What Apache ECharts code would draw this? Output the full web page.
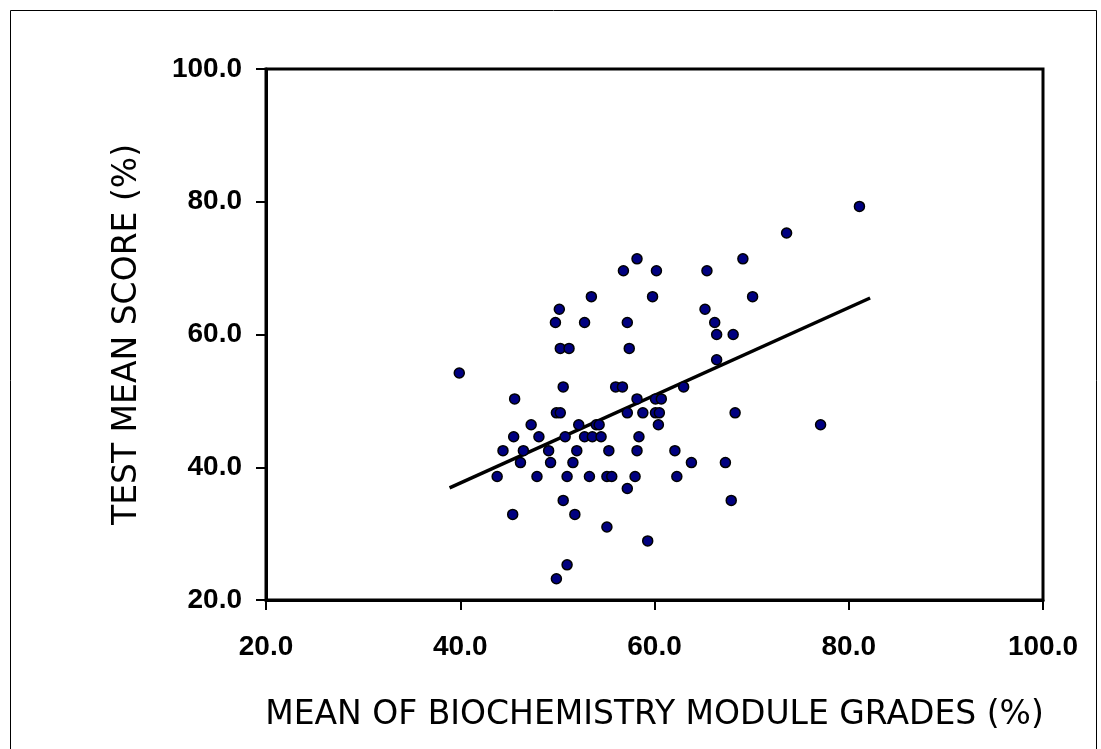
<!DOCTYPE html>
<html>
<head>
<meta charset="utf-8">
<script src="https://cdn.jsdelivr.net/npm/echarts@6/dist/echarts.min.js"></script>
<style>
html,body{margin:0;padding:0;background:#fff;}
#chart{width:1101px;height:749px;}
</style>
</head>
<body>
<div id="chart"></div>
<script>
// Data
var xTitle = 'MEAN OF BIOCHEMISTRY MODULE GRADES (%)';
var yTitle = 'TEST MEAN SCORE (%)';
var moduleGrades = [
  39.9, 45.6, 49.8, 50.2, 52.8, 53.5, 50.3, 51.2, 50.6, 56.0,
  56.7, 49.9, 50.3, 47.3, 52.2, 54.0, 54.3, 45.5, 48.1, 50.8,
  52.8, 53.6, 54.5, 44.4, 46.5, 49.1, 52.0, 55.3, 46.2, 49.3,
  51.6, 43.8, 47.9, 51.0, 53.3, 55.1, 55.6, 50.6, 45.4, 51.8,
  55.1, 51.0, 49.9, 56.8, 58.2, 60.2, 59.8, 57.2, 57.4, 58.2,
  60.1, 60.7, 57.2, 58.8, 60.1, 60.5, 60.4, 58.4, 58.2, 58.0,
  57.2, 59.3, 63.0, 62.1, 63.8, 62.3, 65.4, 69.1, 70.1, 65.2,
  66.2, 66.4, 68.1, 66.4, 68.3, 67.3, 67.9, 73.6, 81.1, 77.1
];
var testScores = [
  54.2, 50.3, 61.8, 63.8, 61.8, 65.7, 57.9, 57.9, 52.1, 52.1,
  52.1, 48.2, 48.2, 46.4, 46.4, 46.4, 46.4, 44.6, 44.6, 44.6,
  44.6, 44.6, 44.6, 42.5, 42.5, 42.5, 42.5, 42.5, 40.7, 40.7,
  40.7, 38.6, 38.6, 38.6, 38.6, 38.6, 38.6, 35.0, 32.9, 32.9,
  31.0, 25.3, 23.2, 69.6, 71.4, 69.6, 65.7, 61.8, 57.9, 50.3,
  50.3, 50.3, 48.2, 48.2, 48.2, 48.2, 46.4, 44.6, 42.5, 38.6,
  36.8, 28.9, 52.1, 42.5, 40.7, 38.6, 69.6, 71.4, 65.7, 63.8,
  61.8, 60.0, 60.0, 56.2, 48.2, 40.7, 35.0, 75.3, 79.3, 46.4
];
var trendX = [38.9, 82.2];
var trendY = [36.9, 65.5];
var axisMin = 20, axisMax = 100, axisStep = 20;

var points = moduleGrades.map(function (x, i) { return [x, testScores[i]]; });
var trend = trendX.map(function (x, i) { return [x, trendY[i]]; });

var chart = echarts.init(document.getElementById('chart'), null, {renderer: 'canvas'});

var tickFont = {
  color: '#000', fontFamily: '"Liberation Sans", Arial, sans-serif',
  fontWeight: 'bold', fontSize: 28,
  formatter: function (v) { return v.toFixed(1); }
};

chart.setOption({
  backgroundColor: '#fff',
  animation: false,
  graphic: [{
    type: 'rect', silent: true, z: 0,
    shape: {x: 10.5, y: 10.5, width: 1086, height: 780},
    style: {fill: 'none', stroke: '#000', lineWidth: 1}
  }],
  grid: {
    left: 266, top: 69, right: 58, bottom: 149,
    show: true, borderColor: '#000', borderWidth: 3, backgroundColor: 'transparent'
  },
  xAxis: {
    type: 'value', min: axisMin, max: axisMax, interval: axisStep,
    name: xTitle, nameLocation: 'middle', nameGap: 99,
    nameTextStyle: {fontFamily: '"DejaVu Sans", sans-serif', fontSize: 33, color: '#000'},
    axisLine: {show: true, onZero: false, lineStyle: {color: '#000', width: 3}},
    axisTick: {show: true, inside: false, length: 10, lineStyle: {color: '#000', width: 2}},
    axisLabel: Object.assign({margin: 33}, tickFont),
    splitLine: {show: false}
  },
  yAxis: {
    type: 'value', min: axisMin, max: axisMax, interval: axisStep,
    name: yTitle, nameLocation: 'middle', nameGap: 122,
    nameTextStyle: {fontFamily: '"DejaVu Sans", sans-serif', fontSize: 33, color: '#000'},
    axisLine: {show: true, onZero: false, lineStyle: {color: '#000', width: 3}},
    axisTick: {show: true, inside: false, length: 10, lineStyle: {color: '#000', width: 2}},
    axisLabel: Object.assign({margin: 24}, tickFont),
    splitLine: {show: false}
  },
  series: [{
    type: 'line', data: trend, showSymbol: false, symbol: 'none',
    lineStyle: {color: '#000', width: 3.5}, z: 2, silent: true
  }, {
    type: 'scatter', data: points, symbol: 'circle', symbolSize: 10,
    itemStyle: {color: '#000080', borderColor: '#000', borderWidth: 1.5, opacity: 1},
    z: 3
  }]
});
</script>
</body>
</html>
